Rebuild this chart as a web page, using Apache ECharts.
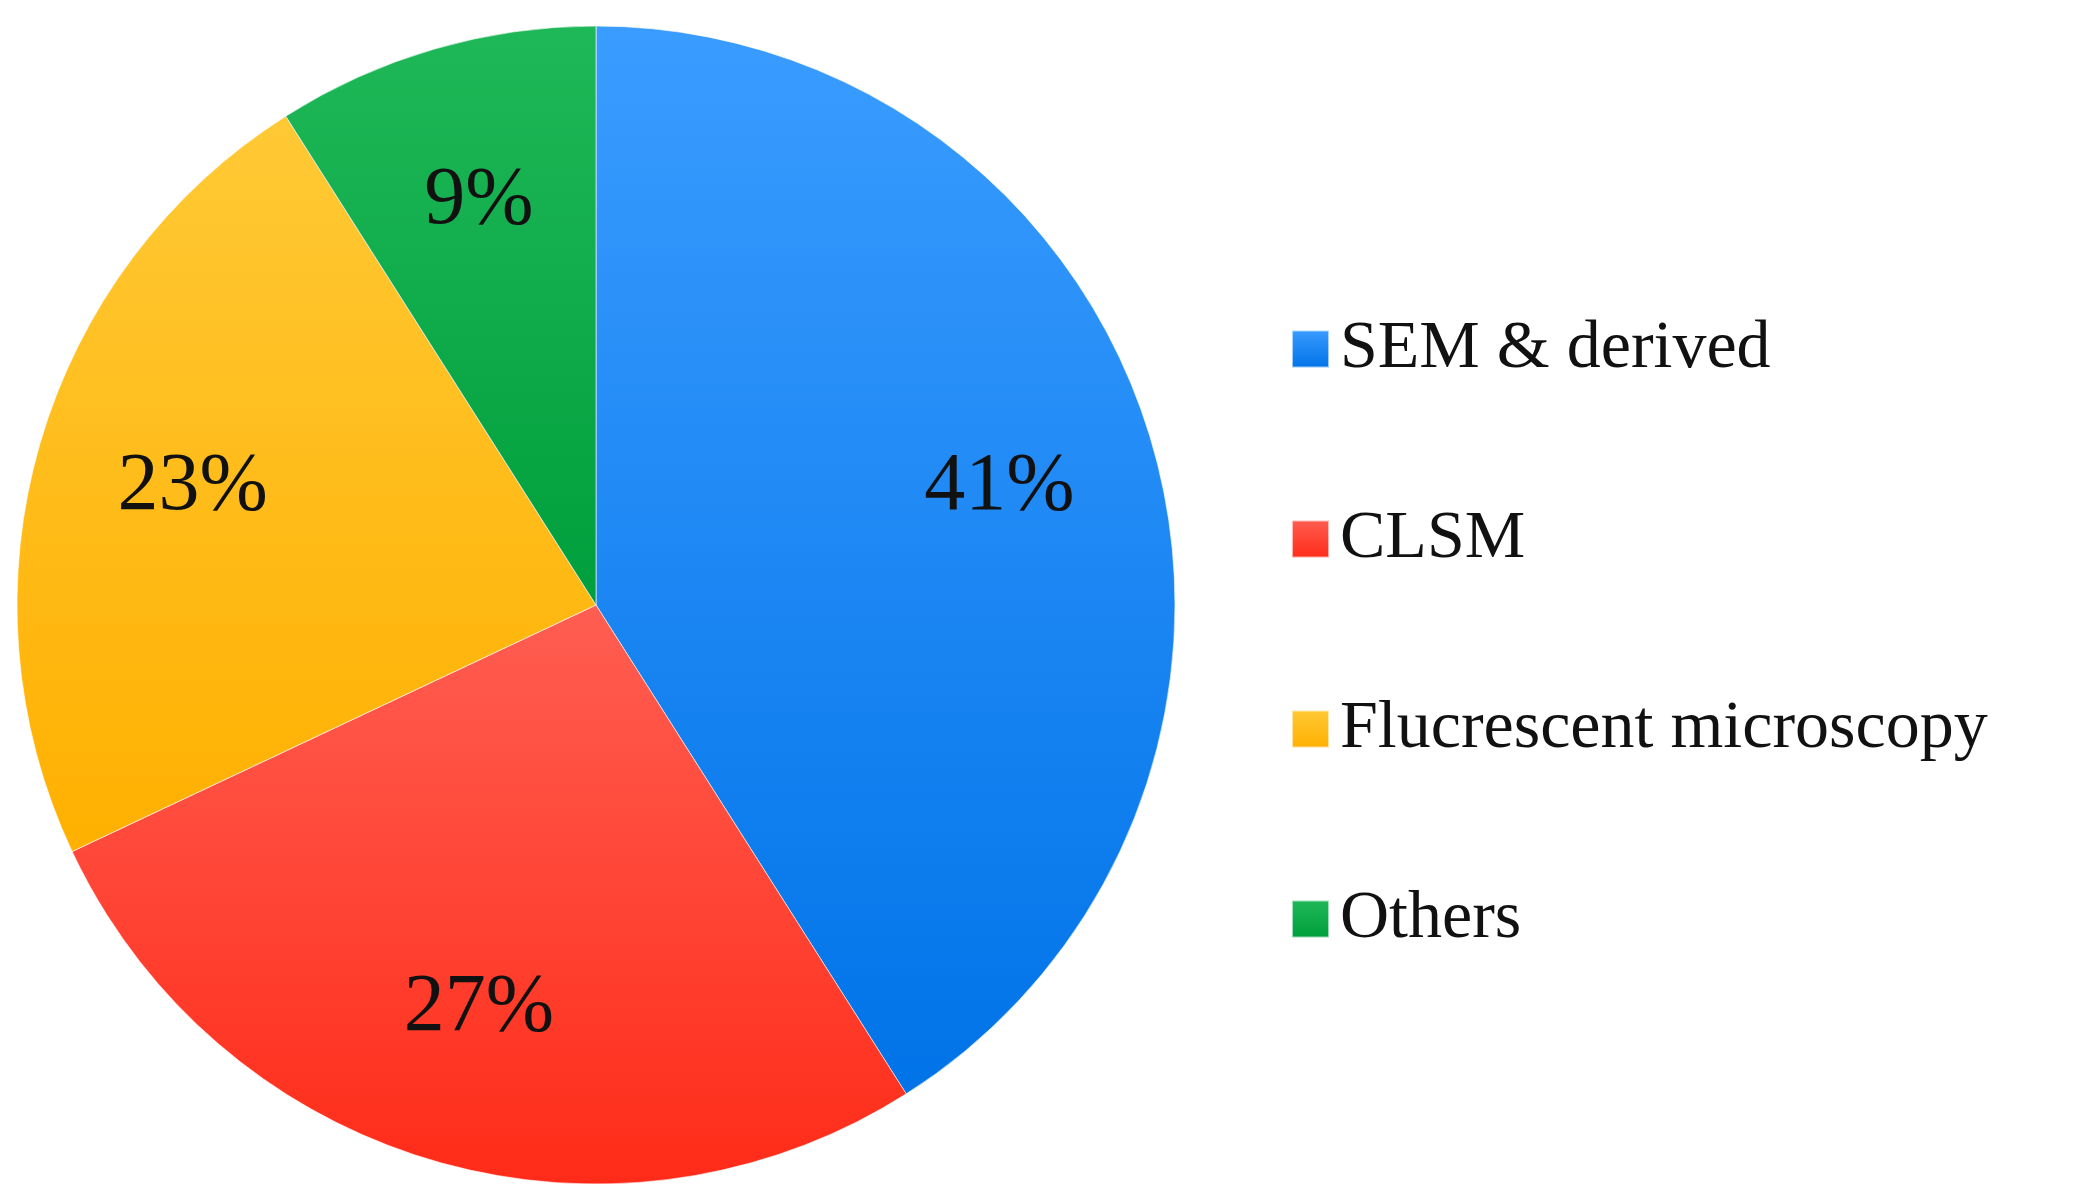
<!DOCTYPE html>
<html><head><meta charset="utf-8">
<script src="https://cdn.jsdelivr.net/npm/echarts@6/dist/echarts.min.js"></script>
<style>html,body{margin:0;padding:0;background:#fff}#c{width:2085px;height:1195px}</style>
</head><body><div id="c"></div>
<script>
const categories = ['SEM & derived', 'CLSM', 'Flucrescent microscopy', 'Others'];
const values = [41, 27, 23, 9];
const colorPairs = [['#3a9cff','#0073e8'],['#ff5e52','#ff2b18'],['#ffc935','#ffb000'],['#1fb858','#009e3c']];
const grad = (a,b)=>new echarts.graphic.LinearGradient(0,0,0,1,[{offset:0,color:a},{offset:1,color:b}]);
const chart = echarts.init(document.getElementById('c'));
const data = categories.map((n,i)=>({name:n,value:values[i],itemStyle:{color:grad(colorPairs[i][0],colorPairs[i][1])}}));
chart.setOption({
  animation:false,
  legend:{orient:'vertical',left:1286,top:310,itemWidth:37,itemHeight:37,itemGap:122,icon:'rect',
    textStyle:{fontFamily:'Liberation Serif',fontSize:68,color:'#111',padding:[0,0,0,6]},data:categories},
  series:[
    {type:'pie',center:[596,605],radius:[0,579],startAngle:90,clockwise:true,label:{show:false},labelLine:{show:false},
     itemStyle:{borderColor:'rgba(255,255,255,0.6)',borderWidth:1},data:data},
    {type:'pie',center:[596,605],radius:[255,579],startAngle:90,clockwise:true,silent:true,legendHoverLink:false,
     itemStyle:{color:'rgba(0,0,0,0)'},
     label:{show:true,position:'inside',formatter:'{c}%',fontFamily:'Liberation Serif',fontSize:82,color:'#111'},
     data:categories.map((n,i)=>({name:n+' ',value:values[i]}))}
  ]
});
</script></body></html>
